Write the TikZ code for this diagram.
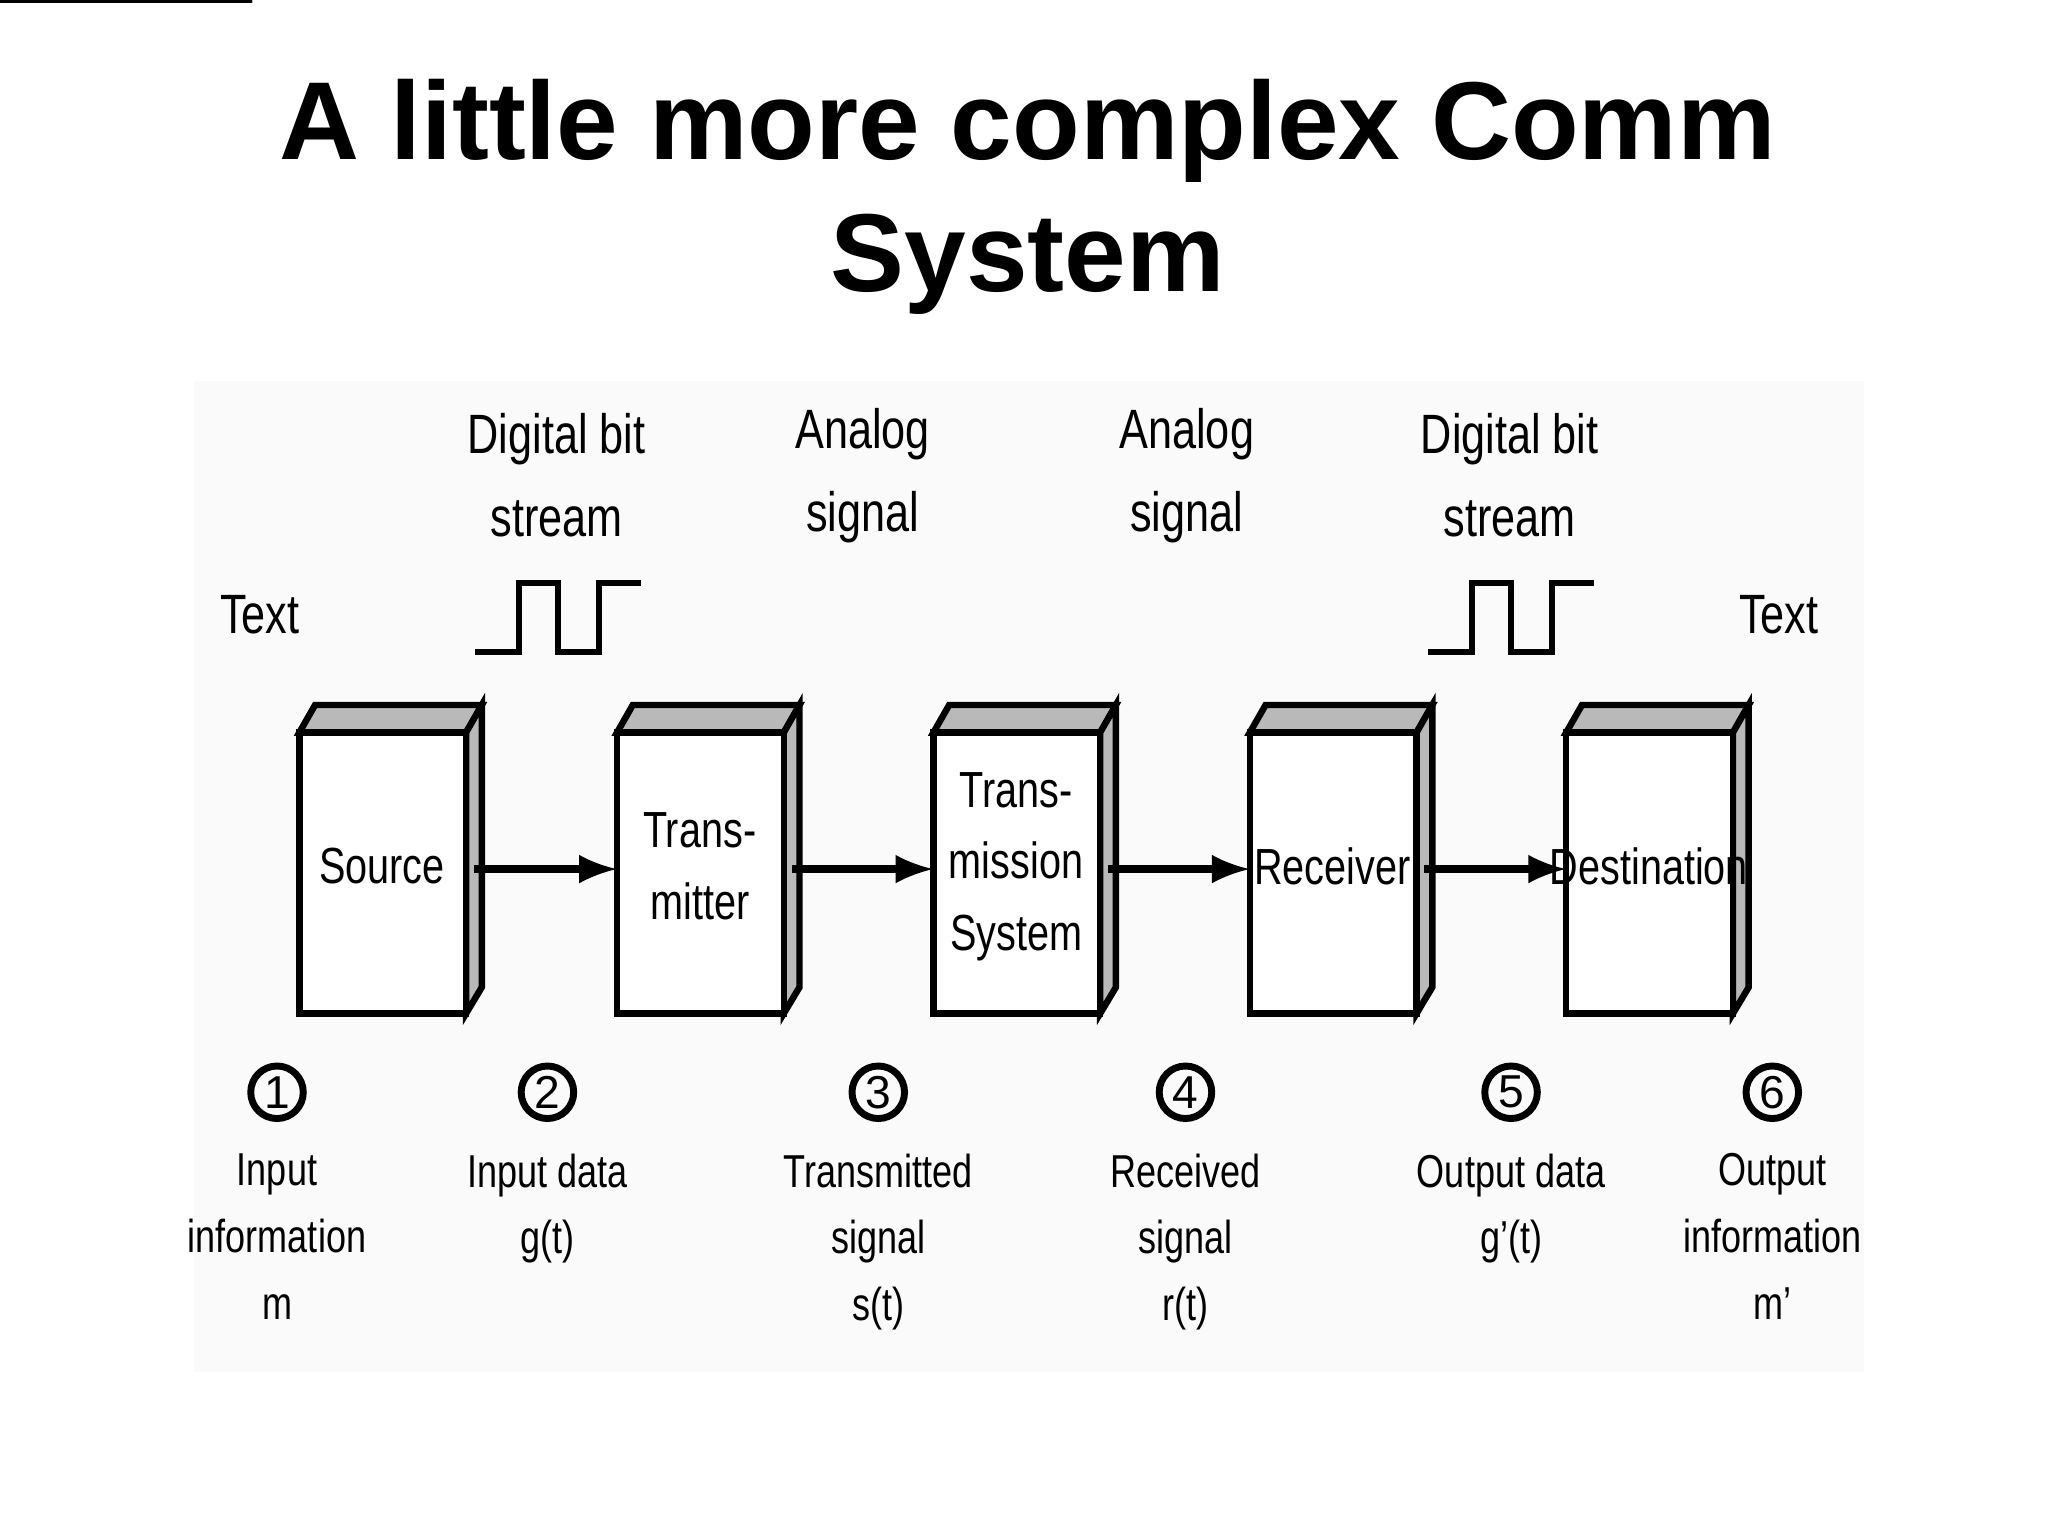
\documentclass[tikz,border=0pt]{standalone}
\usepackage{fontspec}
\setmainfont{Liberation Sans}
\begin{document}
\begin{tikzpicture}[x=0.01cm,y=-0.01cm,
  lbl/.style={font=\fontsize{10}{14.5}\selectfont,xscale=0.78,align=center,inner sep=0pt},
  tlbl/.style={font=\fontsize{12}{18}\selectfont,xscale=0.78,align=center,inner sep=0pt},
  num/.style={circle,draw,line width=1.5pt,minimum size=0.4cm,inner sep=0pt,font=\fontsize{10}{12}\selectfont},
  boxfront/.style={draw,line width=1.4pt,fill=white},
  boxside/.style={draw,line width=1.4pt,fill=gray!55},
  arr/.style={line width=1.8pt,-latex}]
\useasboundingbox (0,0) rectangle (1560,1170);
\fill[gray!4] (148,290) rectangle (1420,1045);
\node[font=\fontsize{24}{28.5}\selectfont\bfseries,align=center] (title) at (783,150) {A little more complex Comm\\System};
% boxes
\foreach \x/\n/\t in {228/b1/Source,470/b2/{Trans-\\mitter},711/b3/{Trans-\\mission\\System},952/b4/Receiver,1193/b5/Destination}{
  \draw[boxside] (\x,558) -- (\x+12,537) -- (\x+139,537) -- (\x+127,558) -- cycle;
  \draw[boxside] (\x+127,558) -- (\x+139,537) -- (\x+139,752) -- (\x+127,772) -- cycle;
  \draw[boxfront] (\x,558) rectangle (\x+127,772);
  \node[lbl,font=\fontsize{11}{15.5}\selectfont] (\n) at (\x+63,660) {\t};
  \coordinate (\n r) at (\x+133,662);
  \coordinate (\n l) at (\x,662);
}
\draw[arr] (b1r) -- (b2l);
\draw[arr] (b2r) -- (b3l);
\draw[arr] (b3r) -- (b4l);
\draw[arr] (b4r) -- (b5l);
% top labels
\node[tlbl] (t1) at (424,362) {Digital bit\\stream};
\node[tlbl] (t2) at (657,362) {Analog\\signal};
\node[tlbl] (t3) at (904,362) {Analog\\signal};
\node[tlbl] (t4) at (1150,362) {Digital bit\\stream};
\node[tlbl] (tx1) at (198,468) {Text};
\node[tlbl] (tx2) at (1355,468) {Text};
% waves
\foreach \x in {362,1088}{
  \draw[line width=1.3pt] (\x,497) -- (\x+33,497) -- (\x+33,444) -- (\x+63,444) -- (\x+63,497) -- (\x+94,497) -- (\x+94,444) -- (\x+126,444);
}
\foreach \x in {609,856}{
  \draw[line width=1.3pt,domain=0:96,samples=150,smooth] plot ({\x+\x*0+\x},{0}) -- cycle;
}
% numbers and bottom labels
\foreach \x/\k/\t in {211/1/{Input\\information\\m},417/2/{Input data\\g(t)},669/3/{Transmitted\\signal\\s(t)},903/4/{Received\\signal\\r(t)},1151/5/{Output data\\g'(t)},1350/6/{Output\\information\\m'}}{
  \node[num] (n\k) at (\x,832) {\k};
  \node[lbl,anchor=north] (d\k) at (\x,878) {\t};
}
\end{tikzpicture}
\end{document}
